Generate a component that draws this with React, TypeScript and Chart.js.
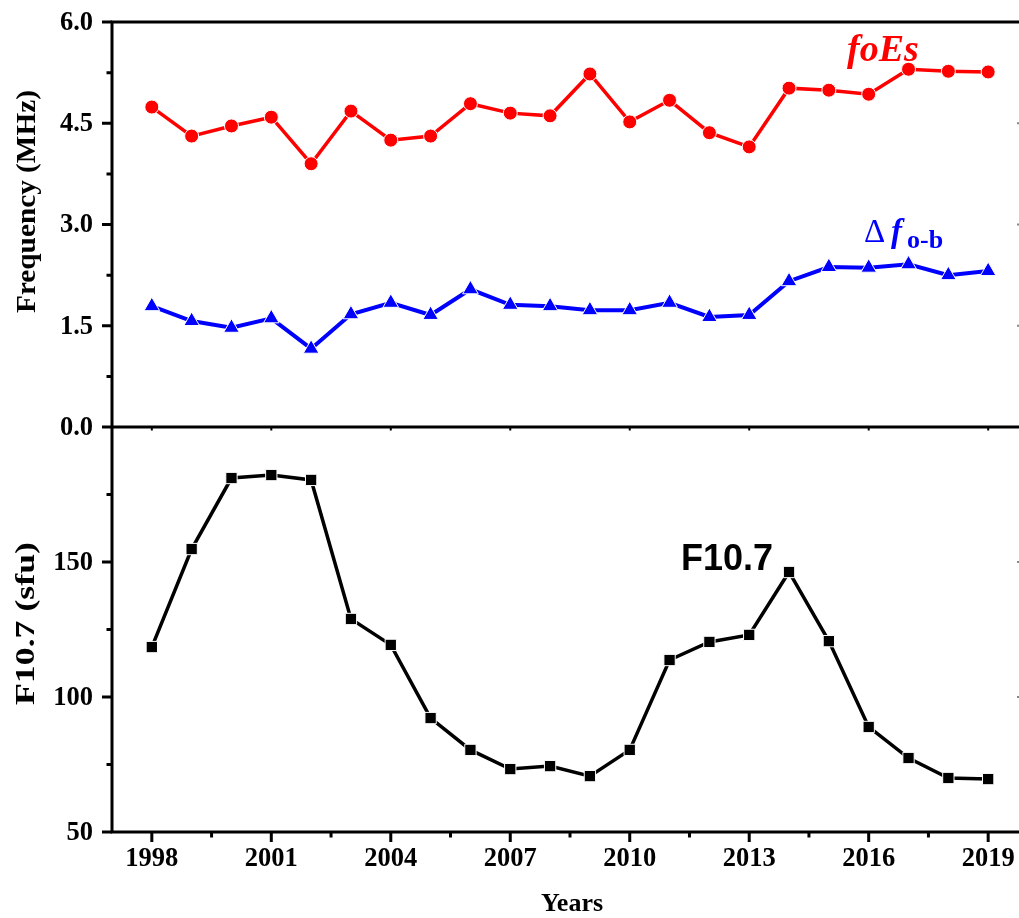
import React, { useEffect, useRef } from "react";
import { Chart, registerables } from "chart.js";

Chart.register(...registerables);

// ---- Data ----
const years = [1998, 1999, 2000, 2001, 2002, 2003, 2004, 2005, 2006, 2007, 2008, 2009, 2010, 2011, 2012, 2013, 2014, 2015, 2016, 2017, 2018, 2019];
const foEs = [4.74, 4.31, 4.46, 4.59, 3.9, 4.68, 4.25, 4.31, 4.79, 4.65, 4.61, 5.23, 4.52, 4.84, 4.36, 4.15, 5.02, 4.99, 4.93, 5.3, 5.27, 5.26];
const deltaFob = [1.79, 1.57, 1.47, 1.61, 1.16, 1.67, 1.84, 1.66, 2.04, 1.81, 1.79, 1.73, 1.73, 1.84, 1.63, 1.66, 2.16, 2.37, 2.36, 2.41, 2.25, 2.31];
const f107 = [118.5, 154.8, 181.1, 182.2, 180.4, 128.9, 119.3, 92.2, 80.4, 73.3, 74.4, 70.7, 80.4, 113.7, 120.4, 123.0, 146.3, 120.7, 88.9, 77.4, 70.0, 69.6];

const xTickLabels = ["1998", "2001", "2004", "2007", "2010", "2013", "2016", "2019"];
const xMinorTicks = [1999.5, 2002.5, 2005.5, 2008.5, 2011.5, 2014.5, 2017.5];
const topTickLabels = ["0.0", "1.5", "3.0", "4.5", "6.0"];
const topMinorTicks = [0.75, 2.25, 3.75, 5.25];
const bottomTickLabels = ["50", "100", "150"];
const bottomMinorTicks = [75, 125, 175];

const SERIF = '"Liberation Serif", "Times New Roman", serif';
const SANS = '"Liberation Sans", Arial, sans-serif';

function drawRotatedTitle(ctx: CanvasRenderingContext2D, text: string, cx: number, cy: number, targetLen: number) {
  ctx.save();
  ctx.translate(cx, cy);
  ctx.rotate(-Math.PI / 2);
  const w = ctx.measureText(text).width;
  ctx.scale(targetLen / w, 1);
  ctx.fillText(text, 0, 0);
  ctx.restore();
}

const framePlugin = {
  id: "frame",
  afterDraw(chart: any) {
    const ctx = chart.ctx as CanvasRenderingContext2D;
    const x = chart.scales.x;
    const yt = chart.scales.yTop;
    const yb = chart.scales.yBot;
    const L = x.getPixelForValue(1997);
    const R = x.getPixelForValue(2020);
    const T = yt.getPixelForValue(6);
    const M = yt.getPixelForValue(0);
    const B = yb.getPixelForValue(50);
    ctx.save();
    ctx.strokeStyle = "#000";
    ctx.lineWidth = 3;
    ctx.lineCap = "butt";
    ctx.beginPath();
    // frame lines
    ctx.moveTo(L, T - 1.5); ctx.lineTo(L, B + 1.5);
    ctx.moveTo(R, T - 1.5); ctx.lineTo(R, B + 1.5);
    ctx.moveTo(L - 1.5, T); ctx.lineTo(R + 1.5, T);
    ctx.moveTo(L - 1.5, M); ctx.lineTo(R + 1.5, M);
    ctx.moveTo(L - 1.5, B); ctx.lineTo(R + 1.5, B);
    ctx.stroke();

    // left ticks
    ctx.lineWidth = 3;
    ctx.beginPath();
    topTickLabels.forEach((t) => {
      const py = yt.getPixelForValue(parseFloat(t));
      ctx.moveTo(L - 10, py); ctx.lineTo(L, py);
    });
    topMinorTicks.forEach((v) => {
      const py = yt.getPixelForValue(v);
      ctx.moveTo(L - 5.5, py); ctx.lineTo(L, py);
    });
    bottomTickLabels.forEach((t) => {
      const py = yb.getPixelForValue(parseFloat(t));
      ctx.moveTo(L - 10, py); ctx.lineTo(L, py);
    });
    bottomMinorTicks.forEach((v) => {
      const py = yb.getPixelForValue(v);
      ctx.moveTo(L - 5.5, py); ctx.lineTo(L, py);
    });
    // bottom ticks
    xTickLabels.forEach((t) => {
      const px = x.getPixelForValue(parseFloat(t));
      ctx.moveTo(px, B); ctx.lineTo(px, B + 10);
    });
    xMinorTicks.forEach((v) => {
      const px = x.getPixelForValue(v);
      ctx.moveTo(px, B); ctx.lineTo(px, B + 5.5);
    });
    ctx.stroke();

    // middle small ticks
    ctx.lineWidth = 2;
    ctx.beginPath();
    xTickLabels.forEach((t) => {
      const px = x.getPixelForValue(parseFloat(t));
      ctx.moveTo(px, M); ctx.lineTo(px, M + 3.5);
    });
    ctx.stroke();

    // right inward ticks (mostly off-screen)
    ctx.strokeStyle = "#888";
    ctx.lineWidth = 2;
    ctx.beginPath();
    topTickLabels.slice(1, -1).forEach((t) => {
      const py = yt.getPixelForValue(parseFloat(t));
      ctx.moveTo(R, py); ctx.lineTo(R - 11, py);
    });
    bottomTickLabels.slice(1).forEach((t) => {
      const py = yb.getPixelForValue(parseFloat(t));
      ctx.moveTo(R, py); ctx.lineTo(R - 11, py);
    });
    ctx.stroke();

    // tick labels
    ctx.fillStyle = "#000";
    ctx.font = `bold 26.5px ${SERIF}`;
    ctx.textAlign = "right";
    ctx.textBaseline = "middle";
    topTickLabels.forEach((t) => {
      ctx.fillText(t, L - 19, yt.getPixelForValue(parseFloat(t)) + 1);
    });
    bottomTickLabels.forEach((t) => {
      ctx.fillText(t, L - 19, yb.getPixelForValue(parseFloat(t)) + 1);
    });
    ctx.textAlign = "center";
    xTickLabels.forEach((t) => {
      ctx.fillText(t, x.getPixelForValue(parseFloat(t)), B + 27);
    });

    // axis titles
    ctx.font = `bold 26px ${SERIF}`;
    ctx.fillText("Years", (L + R) / 2 + 2, B + 72);
    ctx.font = `bold 27px ${SERIF}`;
    drawRotatedTitle(ctx, "Frequency (MHz)", 28, 201.5, 223);
    ctx.font = `bold 28px ${SERIF}`;
    drawRotatedTitle(ctx, "F10.7 (sfu)", 27, 623.5, 163);

    // series annotations
    ctx.textAlign = "left";
    ctx.textBaseline = "alphabetic";
    ctx.fillStyle = "#ff0000";
    ctx.font = `italic bold 38px ${SERIF}`;
    ctx.fillText("foEs", 847, 61);

    ctx.fillStyle = "#0000ff";
    ctx.font = `33px ${SERIF}`;
    ctx.fillText("\u0394", 864, 242);
    ctx.font = `italic bold 33px ${SERIF}`;
    ctx.fillText("f", 891, 242);
    ctx.font = `bold 26px ${SERIF}`;
    ctx.fillText("o-b", 907, 248);

    ctx.fillStyle = "#000";
    ctx.font = `bold 36px ${SANS}`;
    ctx.fillText("F10.7", 681, 570);
    ctx.restore();
  },
};

export default function App() {
  const ref = useRef<HTMLCanvasElement | null>(null);
  useEffect(() => {
    if (!ref.current) return;
    const chart = new Chart(ref.current, {
      type: "line",
      data: {
        datasets: [
          {
            label: "foEs",
            data: years.map((yr, i) => ({ x: yr, y: foEs[i] })),
            yAxisID: "yTop",
            borderColor: "#ff0000",
            backgroundColor: "#ff0000",
            borderWidth: 3.5,
            pointStyle: "circle",
            pointRadius: 7,
            pointBorderColor: "#ffffff",
            pointBorderWidth: 1,
          },
          {
            label: "Δf o-b",
            data: years.map((yr, i) => ({ x: yr, y: deltaFob[i] })),
            yAxisID: "yTop",
            borderColor: "#0000ff",
            backgroundColor: "#0000ff",
            borderWidth: 4,
            pointStyle: "triangle",
            pointRadius: 9,
            pointBorderColor: "#ffffff",
            pointBorderWidth: 1,
          },
          {
            label: "F10.7",
            data: years.map((yr, i) => ({ x: yr, y: f107[i] })),
            yAxisID: "yBot",
            borderColor: "#000000",
            backgroundColor: "#000000",
            borderWidth: 3.5,
            pointStyle: "rect",
            pointRadius: 8,
            pointBorderColor: "#ffffff",
            pointBorderWidth: 1,
          },
        ],
      },
      options: {
        animation: false,
        responsive: false,
        events: [],
        layout: { padding: { left: 112, top: 22, right: 22, bottom: 86 } },
        plugins: { legend: { display: false }, tooltip: { enabled: false } },
        elements: { line: { tension: 0 } },
        scales: {
          x: { type: "linear", min: 1997, max: 2020, display: false },
          yBot: { type: "linear", position: "left", min: 50, max: 200, stack: "panels", stackWeight: 1, display: false },
          yTop: { type: "linear", position: "left", min: 0, max: 6, stack: "panels", stackWeight: 1, display: false },
        },
      },
      plugins: [framePlugin],
    } as any);
    return () => chart.destroy();
  }, []);
  return (
    <div style={{ position: "fixed", left: 0, top: 0, width: 1019, height: 918, overflow: "hidden", background: "#fff" }}>
      <canvas ref={ref} width={1050} height={918} style={{ width: 1050, height: 918, display: "block" }} />
    </div>
  );
}
